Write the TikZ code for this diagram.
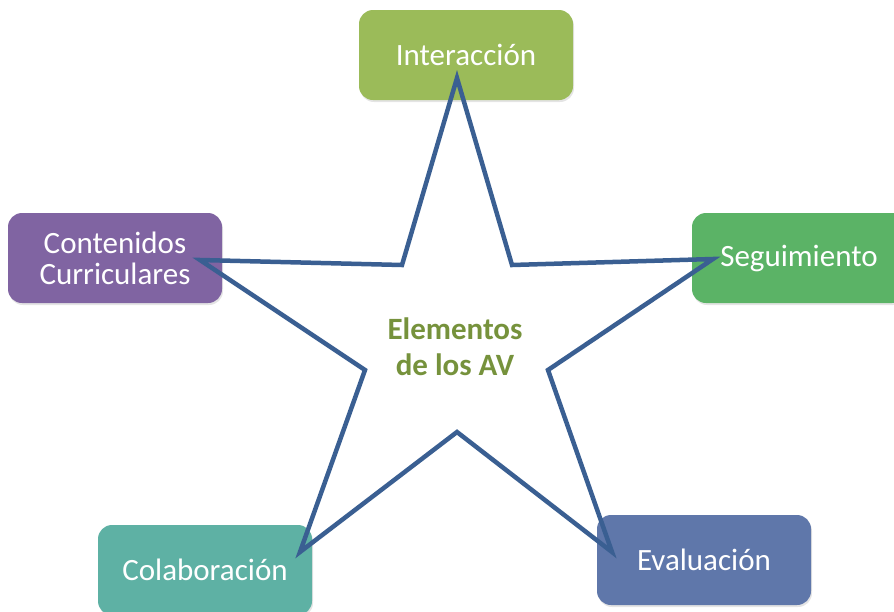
\documentclass[tikz,border=0pt]{standalone}
\usepackage{fontspec}
\setmainfont{Carlito}
\usetikzlibrary{shadows}

\definecolor{verdeA}{HTML}{9BBB59}
\definecolor{morado}{HTML}{8064A2}
\definecolor{verdeB}{HTML}{5BB366}
\definecolor{turquesa}{HTML}{5EB1A4}
\definecolor{azulC}{HTML}{5F77AA}
\definecolor{estrella}{HTML}{3A5F92}
\definecolor{oliva}{HTML}{76923C}

\begin{document}
\begin{tikzpicture}[x=1pt, y=-1pt,
    caja/.style = {rounded corners=14pt, minimum width=214pt, minimum height=90pt,
      inner sep=0pt, align=center, text=white, font=\fontsize{31}{31}\selectfont,
      general shadow={fill=black!30, opacity=.35, shadow xshift=1pt, shadow yshift=-2pt}}]
    \useasboundingbox (0,0) rectangle (894,611);
    % cajas
    \node [caja, fill=verdeA]   (inter) at (466,55)  {Interacción};
    \node [caja, fill=morado]   (conte) at (115,258) {Contenidos\\Curriculares};
    \node [caja, fill=verdeB]   (segui) at (799,258) {Seguimiento};
    \node [caja, fill=turquesa] (colab) at (205,570) {Colaboración};
    \node [caja, fill=azulC]    (evalu) at (704,560) {Evaluación};
    % estrella
    \coordinate (pA) at (457,78);
    \coordinate (iA) at (512,265);
    \coordinate (pB) at (713,259);
    \coordinate (iB) at (548,370);
    \coordinate (pC) at (612,552);
    \coordinate (iC) at (457,432);
    \coordinate (pD) at (300,552);
    \coordinate (iD) at (365,370);
    \coordinate (pE) at (200,260);
    \coordinate (iE) at (402,265);
    \draw [estrella, line width=4.5pt, miter limit=20]
      (pA) -- (iA) -- (pB) -- (iB) -- (pC) -- (iC) -- (pD) -- (iD) -- (pE) -- (iE) -- cycle;
    \node [text=oliva, align=center, font=\fontsize{31}{36}\selectfont\bfseries] (centro) at (455,347)
      {Elementos\\de los AV};
\end{tikzpicture}
\end{document}
